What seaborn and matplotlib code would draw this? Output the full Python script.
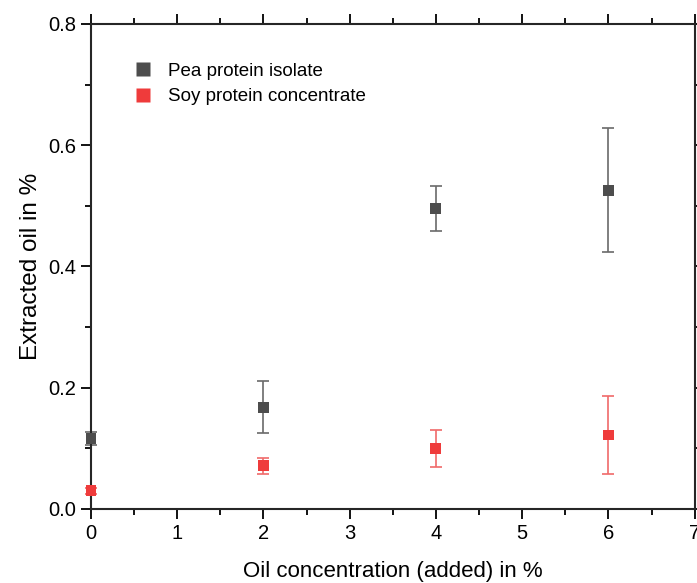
import numpy as np
import pandas as pd
import matplotlib
matplotlib.use("Agg")
import matplotlib.pyplot as plt
import seaborn as sns
from matplotlib.ticker import MultipleLocator, FormatStrFormatter

# Veriler
oil_conc = [0, 2, 4, 6]
pea_values = [0.116, 0.168, 0.495, 0.526]
pea_err = [0.011, 0.043, 0.037, 0.102]
soy_values = [0.030, 0.071, 0.100, 0.122]
soy_err = [0.005, 0.013, 0.031, 0.065]
series_names = ["Pea protein isolate", "Soy protein concentrate"]

df = pd.DataFrame({
    "x": oil_conc * 2,
    "y": pea_values + soy_values,
    "err": pea_err + soy_err,
    "Sample": [series_names[0]] * 4 + [series_names[1]] * 4,
})

sns.set_style("ticks")
plt.rcParams["font.family"] = ["Liberation Sans", "DejaVu Sans"]
plt.rcParams["text.color"] = "black"
plt.rcParams["axes.labelcolor"] = "black"
plt.rcParams["xtick.color"] = "black"
plt.rcParams["ytick.color"] = "black"

palette = {series_names[0]: "#4d4d4d", series_names[1]: "#ef3b3b"}
err_colors = {series_names[0]: "#6a6a6a", series_names[1]: "#f06a6a"}

fig = plt.figure(figsize=(6.97, 5.83), dpi=100)
ax = fig.add_axes([0.1306, 0.127, 0.866, 0.832])

# Hata çubukları
for name in series_names:
    sub = df[df["Sample"] == name]
    eb = ax.errorbar(sub["x"], sub["y"], yerr=sub["err"], fmt="none",
                     ecolor=err_colors[name], elinewidth=1.2, capsize=4, capthick=1.2, zorder=2)
    for art in eb.lines[1] + eb.lines[2]:
        art.set_clip_on(False)

sns.scatterplot(data=df, x="x", y="y", hue="Sample", palette=palette, marker="s",
                s=62, edgecolor="none", ax=ax, zorder=3, clip_on=False)

ax.set_xlim(0, 7)
ax.set_ylim(0, 0.8)
ax.xaxis.set_major_locator(MultipleLocator(1))
ax.xaxis.set_minor_locator(MultipleLocator(0.5))
ax.yaxis.set_major_locator(MultipleLocator(0.2))
ax.yaxis.set_minor_locator(MultipleLocator(0.1))
ax.yaxis.set_major_formatter(FormatStrFormatter("%.1f"))

ax.tick_params(which="both", direction="out", top=True, right=True,
               labeltop=False, labelright=False, width=1.3, labelsize=14.5)
ax.tick_params(which="major", length=7)
ax.tick_params(which="minor", length=4)
for sp in ax.spines.values():
    sp.set_linewidth(1.5)
    sp.set_visible(True)

ax.set_xlabel("Oil concentration (added) in %", fontsize=16, labelpad=13)
ax.set_ylabel("Extracted oil in %", fontsize=17.5, labelpad=5)

leg = ax.legend(loc="upper left", bbox_to_anchor=(0.027, 0.955), frameon=False,
                fontsize=13.5, handletextpad=0.35, labelspacing=0.45, markerscale=1.25)

fig.savefig("out.png", dpi=100)
